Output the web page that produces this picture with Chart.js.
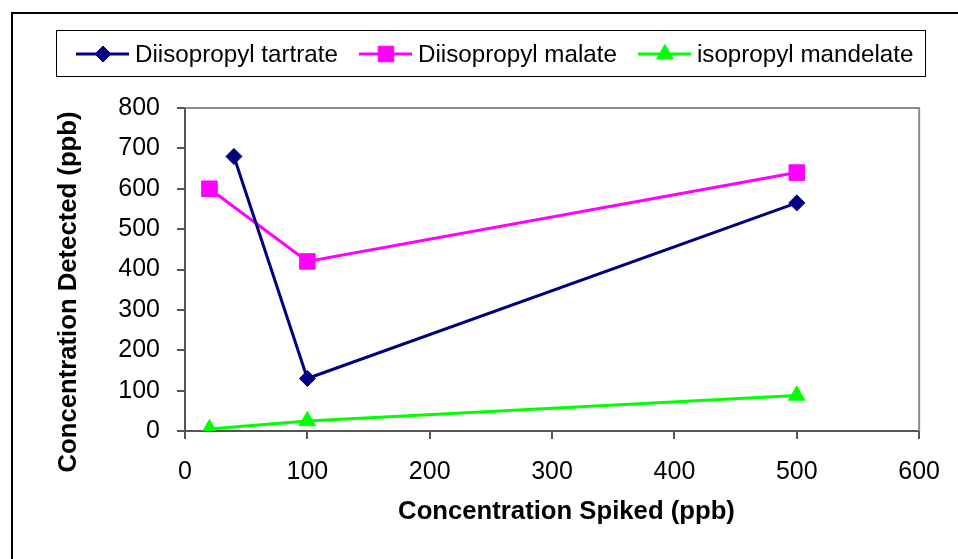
<!DOCTYPE html>
<html><head><meta charset="utf-8">
<script src="https://cdn.jsdelivr.net/npm/chart.js@4/dist/chart.umd.min.js"></script>
<style>html,body{margin:0;padding:0;background:#fff;overflow:hidden}#wrap{width:958px;height:559px;position:relative}</style>
</head><body><div id="wrap"><canvas id="c" width="958" height="559"></canvas></div>
<script>
const seriesNames = ['Diisopropyl tartrate', 'Diisopropyl malate', 'isopropyl mandelate'];
const tartrateX = [40, 100, 500];
const tartrateY = [680, 130, 565];
const malateX = [20, 100, 500];
const malateY = [600, 420, 640];
const mandelateX = [20, 100, 500];
const mandelateY = [5, 25, 88];
const xTicks = [0, 100, 200, 300, 400, 500, 600];
const yTicks = [0, 100, 200, 300, 400, 500, 600, 700, 800];
const xTitle = 'Concentration Spiked (ppb)';
const yTitle = 'Concentration Detected (ppb)';

const FONT = '"Liberation Sans", Arial, sans-serif';
const pts = (xs, ys) => xs.map((x, i) => ({x: x, y: ys[i]}));

const decor = {
  id: 'decor',
  beforeDraw(chart) {
    const ctx = chart.ctx;
    ctx.save(); ctx.fillStyle = '#fff'; ctx.fillRect(0, 0, chart.width, chart.height); ctx.restore();
  },
  beforeDatasetsDraw(chart) {
    const ctx = chart.ctx, a = chart.chartArea;
    ctx.save();
    ctx.strokeStyle = '#8c8c8c'; ctx.lineWidth = 2;
    ctx.beginPath(); ctx.moveTo(a.left, a.top); ctx.lineTo(a.right, a.top); ctx.lineTo(a.right, a.bottom); ctx.stroke();
    ctx.restore();
  },
  afterDraw(chart) {
    const ctx = chart.ctx;
    ctx.save();
    ctx.strokeStyle = '#000'; ctx.lineWidth = 2;
    ctx.strokeRect(12, 13, 1000, 600);
    ctx.lineWidth = 1; ctx.strokeStyle = '#000';
    ctx.strokeRect(56.5, 30.5, 869, 46);
    ctx.font = '24.2px ' + FONT; ctx.textBaseline = 'alphabetic'; ctx.textAlign = 'left';
    let x = 76; const ly = 54;
    chart.data.datasets.forEach(ds => {
      ctx.strokeStyle = ds.borderColor; ctx.lineWidth = 3;
      ctx.beginPath(); ctx.moveTo(x, ly); ctx.lineTo(x + 53, ly); ctx.stroke();
      ctx.fillStyle = ds.pointBackgroundColor; ctx.strokeStyle = ds.pointBorderColor; ctx.lineWidth = 1;
      Chart.helpers.drawPoint(ctx, {pointStyle: ds.pointStyle, radius: ds.pointRadius, rotation: 0, borderWidth: 1}, x + 27, ly);
      ctx.fillStyle = '#000';
      ctx.fillText(ds.label, x + 59, 62);
      x += 59 + ctx.measureText(ds.label).width + 21;
    });
    ctx.font = 'bold 25.7px ' + FONT; ctx.fillStyle = '#000'; ctx.textAlign = 'center';
    ctx.fillText(xTitle, 566.5, 519);
    ctx.translate(76, 292); ctx.rotate(-Math.PI / 2);
    ctx.fillText(yTitle, 0, 0);
    ctx.restore();
  }
};

const mk = (label, xs, ys, color, style, r) => ({
  label: label, data: pts(xs, ys), borderColor: color, backgroundColor: color,
  pointBackgroundColor: color, pointBorderColor: color, pointStyle: style, pointRadius: r,
  pointHoverRadius: r, pointBorderWidth: 1, borderWidth: 3, tension: 0, fill: false
});

new Chart(document.getElementById('c'), {
  type: 'line',
  data: {
    datasets: [
      mk(seriesNames[0], tartrateX, tartrateY, '#000080', 'rectRot', 8),
      mk(seriesNames[1], malateX, malateY, '#ff00ff', 'rect', 11),
      mk(seriesNames[2], mandelateX, mandelateY, '#00ff00', 'triangle', 9.5)
    ]
  },
  options: {
    responsive: false, animation: false, devicePixelRatio: 1,
    layout: {padding: {top: 108, right: 37, left: 0, bottom: 0}},
    plugins: {legend: {display: false}, title: {display: false}, tooltip: {enabled: false}},
    scales: {
      x: {
        type: 'linear', min: xTicks[0], max: xTicks[xTicks.length - 1],
        afterBuildTicks: s => { s.ticks = xTicks.map(v => ({value: v})); },
        afterFit: s => { s.height = 128; },
        ticks: {font: {family: FONT, size: 25}, color: '#000', padding: 18, maxRotation: 0, autoSkip: false},
        grid: {drawOnChartArea: false, drawTicks: true, tickLength: 8, color: '#555', lineWidth: 2},
        border: {display: true, color: '#555', width: 2}
      },
      y: {
        type: 'linear', min: yTicks[0], max: yTicks[yTicks.length - 1],
        afterBuildTicks: s => { s.ticks = yTicks.map(v => ({value: v})); },
        afterFit: s => { s.width = 185; },
        ticks: {font: {family: FONT, size: 25}, color: '#000', padding: 17, autoSkip: false},
        grid: {drawOnChartArea: false, drawTicks: true, tickLength: 8, color: '#555', lineWidth: 2},
        border: {display: true, color: '#555', width: 2}
      }
    }
  },
  plugins: [decor]
});
</script></body></html>
